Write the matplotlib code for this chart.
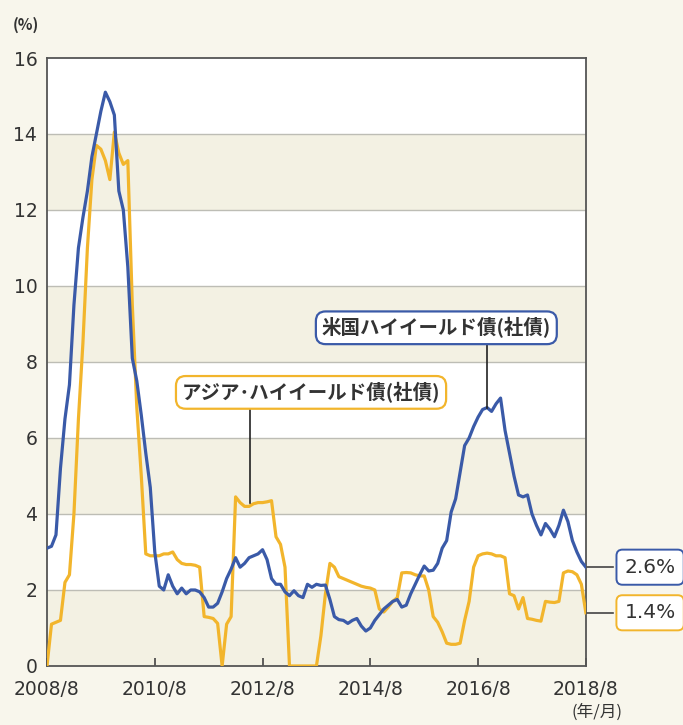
import numpy as np
import matplotlib
matplotlib.use('Agg')
from matplotlib import pyplot as plt
from matplotlib.patches import Rectangle

plt.rcParams['font.family'] = ['Noto Sans CJK JP', 'DejaVu Sans']

# months since 2008/8 (0 .. 120)
months = np.arange(121)

# 米国ハイイールド債(社債), %
us_hy = [3.1, 3.15, 3.45, 5.2, 6.5, 7.4, 9.5, 11.0, 11.8, 12.5,
         13.4, 14.0, 14.6, 15.1, 14.85, 14.5, 12.5, 12.0, 10.5, 8.1,
         7.5, 6.6, 5.6, 4.7, 3.0, 2.1, 2.0, 2.4, 2.1, 1.9,
         2.05, 1.9, 2.0, 2.0, 1.95, 1.8, 1.55, 1.55, 1.65, 1.95,
         2.3, 2.55, 2.85, 2.6, 2.7, 2.85, 2.9, 2.95, 3.06, 2.8,
         2.3, 2.15, 2.15, 1.95, 1.85, 1.98, 1.85, 1.8, 2.15, 2.07,
         2.15, 2.12, 2.13, 1.75, 1.3, 1.22, 1.2, 1.12, 1.2, 1.25,
         1.05, 0.92, 1.0, 1.2, 1.35, 1.5, 1.6, 1.7, 1.75, 1.55,
         1.6, 1.9, 2.15, 2.4, 2.63, 2.5, 2.52, 2.7, 3.1, 3.3,
         4.05, 4.4, 5.1, 5.8, 6.0, 6.3, 6.55, 6.75, 6.8, 6.7,
         6.9, 7.05, 6.2, 5.6, 5.0, 4.5, 4.45, 4.5, 4.0, 3.7,
         3.45, 3.75, 3.6, 3.4, 3.7, 4.1, 3.8, 3.3, 3.0, 2.75,
         2.6]

# アジア・ハイイールド債(社債), %
asia_hy = [0.0, 1.1, 1.15, 1.2, 2.2, 2.4, 4.0, 6.5, 8.5, 11.0,
           12.8, 13.7, 13.6, 13.3, 12.8, 14.05, 13.5, 13.2, 13.3, 9.5,
           6.8, 5.0, 2.95, 2.9, 2.9, 2.9, 2.95, 2.95, 3.0, 2.8,
           2.7, 2.67, 2.67, 2.65, 2.6, 1.3, 1.28, 1.25, 1.12, 0.0,
           1.1, 1.3, 4.45, 4.3, 4.2, 4.2, 4.27, 4.3, 4.3, 4.32,
           4.35, 3.4, 3.2, 2.6, 0.0, 0.0, 0.0, 0.0, 0.0, 0.0,
           0.0, 0.8, 1.9, 2.7, 2.6, 2.35, 2.3, 2.25, 2.2, 2.15,
           2.1, 2.07, 2.05, 2.0, 1.5, 1.42, 1.55, 1.7, 1.8, 2.45,
           2.46, 2.45, 2.4, 2.37, 2.37, 2.0, 1.3, 1.15, 0.9, 0.6,
           0.57, 0.57, 0.6, 1.2, 1.7, 2.6, 2.9, 2.95, 2.97, 2.95,
           2.9, 2.9, 2.85, 1.9, 1.85, 1.5, 1.8, 1.25, 1.23, 1.2,
           1.18, 1.7, 1.68, 1.67, 1.7, 2.45, 2.5, 2.48, 2.4, 2.15,
           1.4]

xtick_pos = [0, 24, 48, 72, 96, 120]
xtick_labels = ['2008/8', '2010/8', '2012/8', '2014/8', '2016/8', '2018/8']
ytick_pos = [0, 2, 4, 6, 8, 10, 12, 14, 16]

us_label = '米国ハイイールド債(社債)'
asia_label = 'アジア･ハイイールド債(社債)'
us_last = '2.6%'
asia_last = '1.4%'

blue = '#3a5aa8'
yellow = '#f2b52c'
bg = '#f8f6ec'
band = '#f3f1e3'
txt = '#333333'

fig = plt.figure(figsize=(6.83, 7.25), dpi=100, facecolor=bg)
ax = fig.add_axes([0.0688, 0.0814, 0.789, 0.8386])
ax.set_facecolor('white')

# shaded bands every other 2%
for y0 in [0, 4, 8, 12]:
    ax.add_patch(Rectangle((0, y0), 120, 2, facecolor=band, edgecolor='none', zorder=0))
for y in ytick_pos[1:-1]:
    ax.axhline(y, color='#bdbdb5', lw=1.0, zorder=1)

ax.plot(months, asia_hy, color=yellow, lw=2.3, zorder=3, solid_joinstyle='round')
ax.plot(months, us_hy, color=blue, lw=2.3, zorder=4, solid_joinstyle='round')

ax.set_xlim(0, 120)
ax.set_ylim(0, 16)
ax.set_xticks(xtick_pos)
ax.set_xticklabels(xtick_labels, family='DejaVu Sans')
ax.set_yticks(ytick_pos)
ax.set_yticklabels([str(v) for v in ytick_pos], family='DejaVu Sans')
ax.tick_params(axis='x', direction='in', length=6, width=1.2, color='#444444',
               labelsize=13.5, labelcolor=txt, pad=10)
ax.tick_params(axis='y', length=0, labelsize=13.5, labelcolor=txt, pad=7)
for s in ax.spines.values():
    s.set_color('#555555')
    s.set_linewidth(1.3)

fig.text(0.018, 0.966, '(%)', fontsize=11, color=txt, fontweight='bold', va='center')
fig.text(0.874, 0.018, '(年/月)', fontsize=12, color=txt, ha='center', va='center')

# callouts
ax.plot([98, 98], [6.8, 8.6], color='#222222', lw=1.2, zorder=5)
ax.text(86.7, 8.9, us_label, fontsize=14, fontweight='bold', color=txt,
        ha='center', va='center', zorder=6,
        bbox=dict(boxstyle='round,pad=0.3,rounding_size=0.5', fc='white', ec=blue, lw=1.6))
ax.plot([45.2, 45.2], [4.3, 7.0], color='#222222', lw=1.2, zorder=5)
ax.text(58.8, 7.2, asia_label, fontsize=14, fontweight='bold', color=txt,
        ha='center', va='center', zorder=6,
        bbox=dict(boxstyle='round,pad=0.3,rounding_size=0.5', fc='white', ec=yellow, lw=1.6))

# end value labels
ax.plot([120, 126], [2.6, 2.6], color='#444444', lw=1.2, clip_on=False)
ax.plot([120, 126], [1.4, 1.4], color='#444444', lw=1.2, clip_on=False)
ax.text(134.3, 2.6, us_last, fontsize=14.5, color=txt, ha='center', va='center', clip_on=False,
        family='DejaVu Sans',
        bbox=dict(boxstyle='round,pad=0.4,rounding_size=0.3', fc='white', ec=blue, lw=1.4))
ax.text(134.3, 1.4, asia_last, fontsize=14.5, color=txt, ha='center', va='center', clip_on=False,
        family='DejaVu Sans',
        bbox=dict(boxstyle='round,pad=0.4,rounding_size=0.3', fc='white', ec=yellow, lw=1.4))

fig.savefig('out.png', dpi=100, facecolor=bg)
